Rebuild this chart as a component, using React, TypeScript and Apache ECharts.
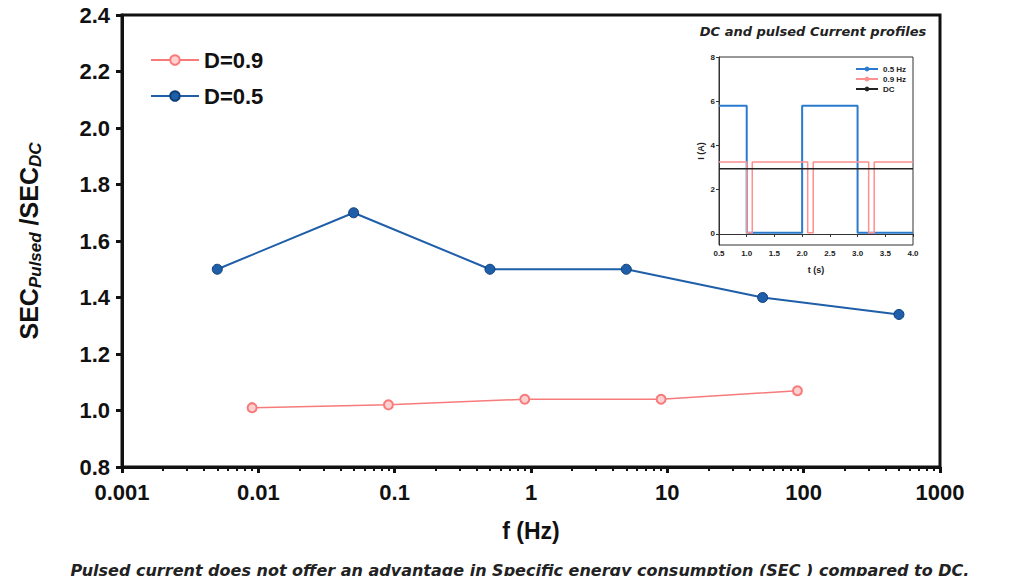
import React, { useEffect, useRef } from "react";
import * as echarts from "echarts";

const freqD05 = [0.005, 0.05, 0.5, 5, 50, 500];
const secD05 = [1.5, 1.7, 1.5, 1.5, 1.4, 1.34];
const freqD09 = [0.009, 0.09, 0.9, 9, 90];
const secD09 = [1.01, 1.02, 1.04, 1.04, 1.07];

// inset current profiles (step breakpoints)
const tBlue = [0.5, 1.0, 2.0, 3.0, 4.0];
const iBlue = [5.8, 0.05, 5.8, 0.05, 0.05];
const tRed = [0.5, 1.0, 1.1, 2.1, 2.2, 3.2, 3.3, 4.0];
const iRed = [3.25, 0.05, 3.25, 0.05, 3.25, 0.05, 3.25, 3.25];
const tDC = [0.5, 4.0];
const iDC = [2.95, 2.95];

const zip = (a: number[], b: number[]) => a.map((v, i) => [v, b[i]]);

const RED = "#f77b7b";
const BLUE = "#1f5ea8";
const FONT = "Liberation Sans, Arial, sans-serif";

const App = () => {
  const ref = useRef<HTMLDivElement>(null);

  useEffect(() => {
    if (!ref.current) return;
    const chart = echarts.init(ref.current, null, { renderer: "svg" });
    chart.setOption({
      animation: false,
      textStyle: { fontFamily: FONT },
      title: [
        {
          text: "DC and pulsed Current profiles",
          left: 808, top: 20, textAlign: "center",
          textStyle: { fontSize: 13, fontStyle: "italic", fontWeight: "bold", color: "#222", fontFamily: "DejaVu Sans" },
        },
        {
          text: "Pulsed current does not offer an advantage in Specific energy consumption (SEC ) compared to DC.",
          left: 515, top: 557, textAlign: "center",
          textStyle: { fontSize: 16, fontStyle: "italic", fontWeight: "bold", color: "#222", fontFamily: "DejaVu Sans" },
        },
      ],
      legend: [
        {
          data: ["D=0.9", "D=0.5"],
          orient: "vertical", left: 145, top: 44, itemGap: 14,
          itemWidth: 48, itemHeight: 12,
          textStyle: { fontSize: 22, fontWeight: "bold", color: "#111" },
        },
        {
          data: ["0.5 Hz", "0.9 Hz", "DC"],
          orient: "vertical", left: 850, top: 60, itemGap: 2,
          itemWidth: 22, itemHeight: 6,
          textStyle: { fontSize: 8, fontWeight: "bold", color: "#222" },
        },
      ],
      grid: [
        { left: 122, right: 84, top: 15, bottom: 117, show: true, borderColor: "#111", borderWidth: 3 },
        { left: 719, right: 111, top: 57, bottom: 339, show: true, borderColor: "#333", borderWidth: 1 },
      ],
      xAxis: [
        {
          type: "log", logBase: 10, min: 0.001, max: 1000, gridIndex: 0,
          name: "f (Hz)", nameLocation: "middle", nameGap: 52,
          nameTextStyle: { fontSize: 23, fontWeight: "bold", color: "#111" },
          axisLine: { lineStyle: { color: "#111", width: 3 } },
          axisTick: { lineStyle: { width: 3 }, length: 6 },
          minorTick: { show: true, splitNumber: 9, length: 4, lineStyle: { color: "#111", width: 2 } },
          axisLabel: {
            fontSize: 22, fontWeight: "bold", color: "#111", margin: 14,
            formatter: (v: number) => String(+v.toPrecision(3)),
          },
          splitLine: { show: false },
        },
        {
          type: "value", min: 0.5, max: 4, interval: 0.5, gridIndex: 1,
          name: "t (s)", nameLocation: "middle", nameGap: 20,
          nameTextStyle: { fontSize: 9, fontWeight: "bold", color: "#222" },
          axisLine: { lineStyle: { color: "#333" } },
          axisTick: { length: 3 },
          axisLabel: { fontSize: 8, fontWeight: "bold", color: "#222", margin: 4, formatter: (v: number) => v.toFixed(1) },
          splitLine: { show: false },
        },
      ],
      yAxis: [
        {
          type: "value", min: 0.8, max: 2.4, interval: 0.2, gridIndex: 0,
          name: "{b|SEC}{s|Pulsed}{b| /SEC}{s|DC}", nameLocation: "middle", nameGap: 78,
          nameTextStyle: {
            rich: {
              b: { fontSize: 25, fontWeight: "bold", color: "#111", fontFamily: FONT },
              s: { fontSize: 17, fontWeight: "bold", fontStyle: "italic", color: "#111", fontFamily: FONT, padding: [14, 0, 0, 0] },
            },
          },
          axisLine: { show: true, lineStyle: { color: "#111", width: 3 } },
          axisTick: { show: true, lineStyle: { width: 3 }, length: 6 },
          axisLabel: { fontSize: 22, fontWeight: "bold", color: "#111", margin: 12, formatter: (v: number) => v.toFixed(1) },
          splitLine: { show: false },
        },
        {
          type: "value", min: -0.5, max: 8, gridIndex: 1,
          name: "I (A)", nameLocation: "middle", nameGap: 14,
          nameTextStyle: { fontSize: 9, fontWeight: "bold", color: "#222" },
          axisLine: { show: true, lineStyle: { color: "#333" } },
          axisTick: { show: true, length: 3, customValues: [0, 2, 4, 6, 8] },
          axisLabel: { fontSize: 8, fontWeight: "bold", color: "#222", margin: 4, customValues: [0, 2, 4, 6, 8] },
          splitLine: { show: false },
        },
      ],
      series: [
        {
          name: "D=0.9", type: "line", xAxisIndex: 0, yAxisIndex: 0,
          data: zip(freqD09, secD09), symbol: "circle", symbolSize: 9,
          lineStyle: { color: RED, width: 1.5 },
          itemStyle: { color: "#ffd0d0", borderColor: RED, borderWidth: 2 },
        },
        {
          name: "D=0.5", type: "line", xAxisIndex: 0, yAxisIndex: 0,
          data: zip(freqD05, secD05), symbol: "circle", symbolSize: 10,
          lineStyle: { color: BLUE, width: 2 },
          itemStyle: { color: BLUE, borderColor: "#0d3f7a", borderWidth: 1 },
        },
        {
          name: "0.5 Hz", type: "line", step: "end", xAxisIndex: 1, yAxisIndex: 1,
          data: zip(tBlue, iBlue), symbol: "none",
          lineStyle: { color: "#2a7bd0", width: 2 }, itemStyle: { color: "#2a7bd0" },
        },
        {
          name: "0.9 Hz", type: "line", step: "end", xAxisIndex: 1, yAxisIndex: 1,
          data: zip(tRed, iRed), symbol: "none",
          lineStyle: { color: "#ff9090", width: 1.5 }, itemStyle: { color: "#ff9090" },
        },
        {
          name: "DC", type: "line", xAxisIndex: 1, yAxisIndex: 1,
          data: zip(tDC, iDC), symbol: "none",
          lineStyle: { color: "#222", width: 1.5 }, itemStyle: { color: "#222" },
        },
      ],
    });
    return () => chart.dispose();
  }, []);

  return <div ref={ref} style={{ width: 1024, height: 584, margin: -8 }} />;
};

export default App;
